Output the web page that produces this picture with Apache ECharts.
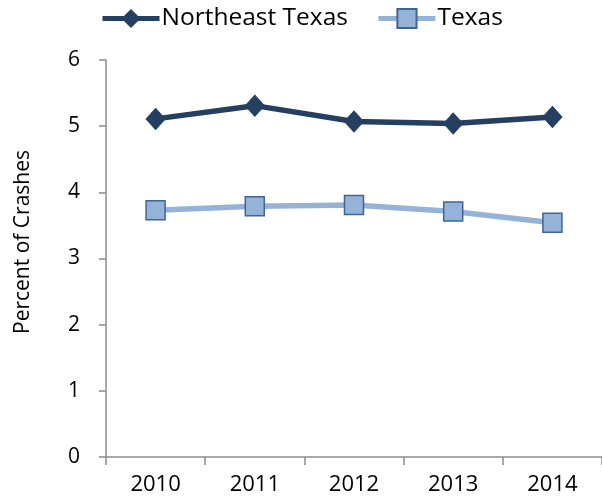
<!DOCTYPE html>
<html>
<head>
<meta charset="utf-8">
<script src="https://cdn.jsdelivr.net/npm/echarts@6/dist/echarts.min.js"></script>
<style>
  html, body { margin: 0; padding: 0; background: #fff; }
  #chart { width: 602px; height: 504px; }
</style>
</head>
<body>
<div id="chart"></div>
<script>
// Share of crashes by year, regional vs statewide
const years = ['2010', '2011', '2012', '2013', '2014'];
const northeastTexas = [5.11, 5.31, 5.07, 5.04, 5.14];
const texas = [3.73, 3.79, 3.81, 3.71, 3.54];
const yTicks = { min: 0, max: 6, interval: 1 };
const yTitle = 'Percent of Crashes';

const font = 'Open Sans';
const chart = echarts.init(document.getElementById('chart'));

chart.setOption({
  animation: false,
  backgroundColor: '#ffffff',
  textStyle: { fontFamily: font },
  grid: { left: 106, right: 0, top: 60, bottom: 47 },
  legend: {
    top: 1,
    left: 95,
    itemWidth: 57,
    itemHeight: 24,
    itemGap: 28,
    lineStyle: { width: 5 },
    textStyle: { fontFamily: font, fontSize: 24.5, color: '#000', padding: [0, 0, 0, -3] },
    data: ['Northeast Texas', 'Texas']
  },
  xAxis: {
    type: 'category',
    data: years,
    boundaryGap: true,
    axisLine: { lineStyle: { color: '#8c8c8c', width: 1.5 } },
    axisTick: { show: true, length: 8, lineStyle: { color: '#8c8c8c', width: 1.5 } },
    axisLabel: { fontFamily: font, fontSize: 22, color: '#000', margin: 17 },
    splitLine: { show: false }
  },
  yAxis: {
    type: 'value',
    min: yTicks.min,
    max: yTicks.max,
    interval: yTicks.interval,
    axisLine: { show: true, lineStyle: { color: '#8c8c8c', width: 1.5 } },
    axisTick: { show: true, length: 7, lineStyle: { color: '#8c8c8c', width: 1.5 } },
    axisLabel: { fontFamily: font, fontSize: 21, color: '#000', margin: 26 },
    splitLine: { show: false }
  },
  graphic: [{
    type: 'text',
    left: 13,
    top: 150,
    rotation: Math.PI / 2,
    style: { text: yTitle, font: '21px "Open Sans"', fill: '#000' }
  }],
  series: [
    {
      name: 'Northeast Texas',
      type: 'line',
      data: northeastTexas,
      symbol: 'diamond',
      symbolSize: [19, 21],
      lineStyle: { color: '#243f60', width: 5.5 },
      itemStyle: { color: '#243f60', borderColor: '#243f60' },
      z: 3
    },
    {
      name: 'Texas',
      type: 'line',
      data: texas,
      symbol: 'rect',
      symbolSize: 19,
      lineStyle: { color: '#95b3d7', width: 5.5 },
      itemStyle: { color: '#95b3d7', borderColor: '#3d6596', borderWidth: 1.5 },
      z: 2
    }
  ]
});
</script>
</body>
</html>
